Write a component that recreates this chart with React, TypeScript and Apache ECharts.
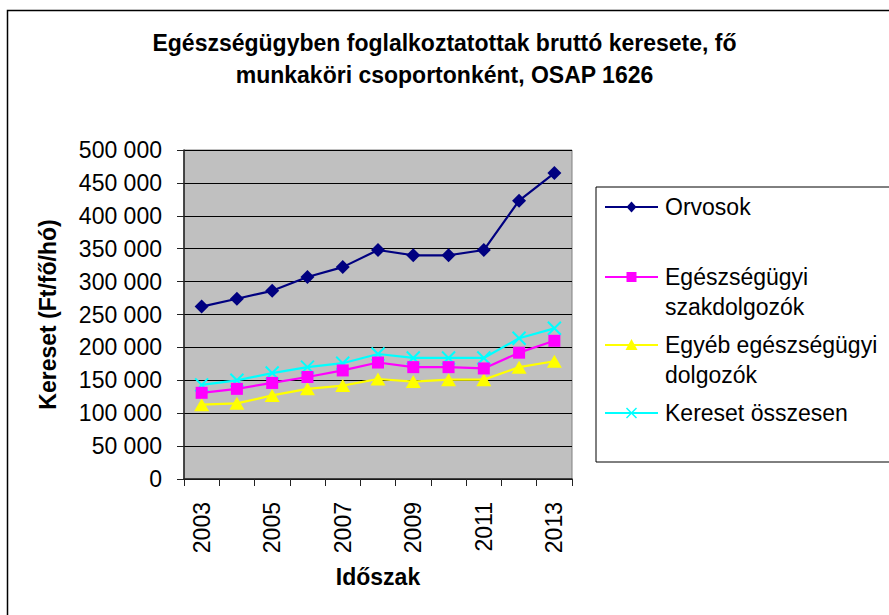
import React, { useEffect, useRef } from 'react';
import * as echarts from 'echarts';

const years = ['2003', '2004', '2005', '2006', '2007', '2008', '2009', '2010', '2011', '2012', '2013'];
const seriesNames = ['Orvosok', 'Egészségügyi szakdolgozók', 'Egyéb egészségügyi dolgozók', 'Kereset összesen'];
const legendLabels = ['Orvosok', 'Egészségügyi\nszakdolgozók', 'Egyéb egészségügyi\ndolgozók', 'Kereset összesen'];
const orvosok = [262000, 274000, 286000, 307000, 322000, 348000, 340000, 340000, 348000, 423000, 465000];
const szakdolgozok = [131000, 137000, 146000, 155000, 165000, 177000, 170000, 170000, 168000, 192000, 210000];
const egyeb = [113000, 115000, 127000, 137000, 142000, 152000, 148000, 151000, 151000, 170000, 179000];
const osszesen = [143000, 150000, 161000, 170000, 176000, 190000, 184000, 184000, 184000, 214000, 229000];
const titleLines = ['Egészségügyben foglalkoztatottak bruttó keresete, fő', 'munkaköri csoportonként, OSAP 1626'];
const yAxisName = 'Kereset (Ft/fő/hó)';
const xAxisName = 'Időszak';

const FONT = '"Liberation Sans", Arial, sans-serif';
const colors = ['#000080', '#FF00FF', '#FFFF00', '#00FFFF'];

const fmt = (v: number) => String(v).replace(/\B(?=(\d{3})+(?!\d))/g, ' ');

export default function App() {
  const ref = useRef<HTMLDivElement>(null);
  useEffect(() => {
    const chart = echarts.init(ref.current!, null, { renderer: 'svg' });
    const dataSets = [orvosok, szakdolgozok, egyeb, osszesen];
    const symbols = ['diamond', 'rect', 'triangle', 'path://M0,0L10,10M10,0L0,10'];
    const sizes: any[] = [14, 12, [15, 13], 13];

    const legendY = [207, 277, 345, 413];
    const lx1 = 605, lx2 = 658, mx = 631.5;
    const legendGraphics: any[] = [
      {
        type: 'rect',
        shape: { x: 596, y: 187, width: 400, height: 275 },
        style: { fill: '#fff', stroke: '#000', lineWidth: 1 },
        z: 10,
      },
    ];
    legendLabels.forEach((lab, i) => {
      const y = legendY[i];
      legendGraphics.push({
        type: 'line',
        shape: { x1: lx1, y1: y, x2: lx2, y2: y },
        style: { stroke: colors[i], lineWidth: 2 },
        z: 11,
      });
      if (i === 0) {
        legendGraphics.push({
          type: 'polygon',
          shape: { points: [[mx, y - 5.5], [mx + 5, y], [mx, y + 5.5], [mx - 5, y]] },
          style: { fill: colors[i] },
          z: 12,
        });
      } else if (i === 1) {
        legendGraphics.push({
          type: 'rect',
          shape: { x: mx - 5, y: y - 5, width: 10, height: 10 },
          style: { fill: colors[i] },
          z: 12,
        });
      } else if (i === 2) {
        legendGraphics.push({
          type: 'polygon',
          shape: { points: [[mx, y - 6], [mx + 6, y + 5], [mx - 6, y + 5]] },
          style: { fill: colors[i] },
          z: 12,
        });
      } else {
        legendGraphics.push({
          type: 'polyline',
          shape: { points: [[mx - 5, y - 5], [mx + 5, y + 5]] },
          style: { stroke: colors[i], lineWidth: 1.5 },
          z: 12,
        });
        legendGraphics.push({
          type: 'polyline',
          shape: { points: [[mx + 5, y - 5], [mx - 5, y + 5]] },
          style: { stroke: colors[i], lineWidth: 1.5 },
          z: 12,
        });
      }
      legendGraphics.push({
        type: 'text',
        x: 665,
        y: y - 15,
        style: {
          text: lab,
          fill: '#000',
          fontSize: 23,
          fontFamily: FONT,
          lineHeight: 30,
          verticalAlign: 'top',
          align: 'left',
        },
        z: 12,
      });
    });

    const option: any = {
      animation: false,
      backgroundColor: '#fff',
      textStyle: { fontFamily: FONT, color: '#000' },
      title: {
        text: titleLines.join('\n'),
        left: 'center',
        top: 27,
        padding: [0, 0, 0, 11],
        textStyle: {
          fontFamily: FONT,
          fontSize: 23,
          fontWeight: 'bold',
          color: '#000',
          lineHeight: 32,
        },
      },
      grid: {
        left: 184,
        top: 150,
        width: 388,
        height: 329,
        show: true,
        backgroundColor: '#C0C0C0',
        borderColor: '#808080',
        borderWidth: 1,
        containLabel: false,
      },
      xAxis: {
        type: 'category',
        data: years,
        boundaryGap: true,
        name: xAxisName,
        nameLocation: 'middle',
        nameGap: 86,
        nameTextStyle: { fontFamily: FONT, fontSize: 23, fontWeight: 'bold', color: '#000' },
        axisLine: { show: true, lineStyle: { color: '#222', width: 1.5 } },
        axisTick: { show: true, interval: 0, length: 7, lineStyle: { color: '#222', width: 1 } },
        axisLabel: { interval: 1, rotate: 90, margin: 23, fontSize: 23, fontFamily: FONT, color: '#000' },
        splitLine: { show: false },
      },
      yAxis: {
        type: 'value',
        min: 0,
        max: 500000,
        interval: 50000,
        name: yAxisName,
        nameLocation: 'middle',
        nameGap: 125,
        nameTextStyle: { fontFamily: FONT, fontSize: 23, fontWeight: 'bold', color: '#000' },
        axisLine: { show: true, lineStyle: { color: '#222', width: 1.5 } },
        axisTick: { show: true, length: 7, lineStyle: { color: '#222', width: 1 } },
        axisLabel: { margin: 22, fontSize: 23, fontFamily: FONT, color: '#000', formatter: fmt },
        splitLine: { show: true, lineStyle: { color: '#000', width: 1 } },
      },
      series: dataSets.map((d, i) => ({
        name: seriesNames[i],
        type: 'line',
        data: d,
        symbol: symbols[i],
        symbolSize: sizes[i],
        showSymbol: true,
        lineStyle: { color: colors[i], width: 2.2 },
        itemStyle: i === 3
          ? { color: colors[i], borderColor: colors[i], borderWidth: 2 }
          : { color: colors[i], borderWidth: 0 },
        z: 5 + (3 - i),
      })),
      graphic: [
        {
          type: 'rect',
          shape: { x: 7.5, y: 10.5, width: 1000, height: 1000 },
          style: { fill: 'none', stroke: '#000', lineWidth: 1.5 },
          z: 1,
          silent: true,
        },
        ...legendGraphics,
      ],
    };
    chart.setOption(option);
    return () => chart.dispose();
  }, []);
  return (
    <div
      ref={ref}
      style={{ position: 'fixed', left: 0, top: 0, width: 889, height: 615, background: '#fff' }}
    />
  );
}
